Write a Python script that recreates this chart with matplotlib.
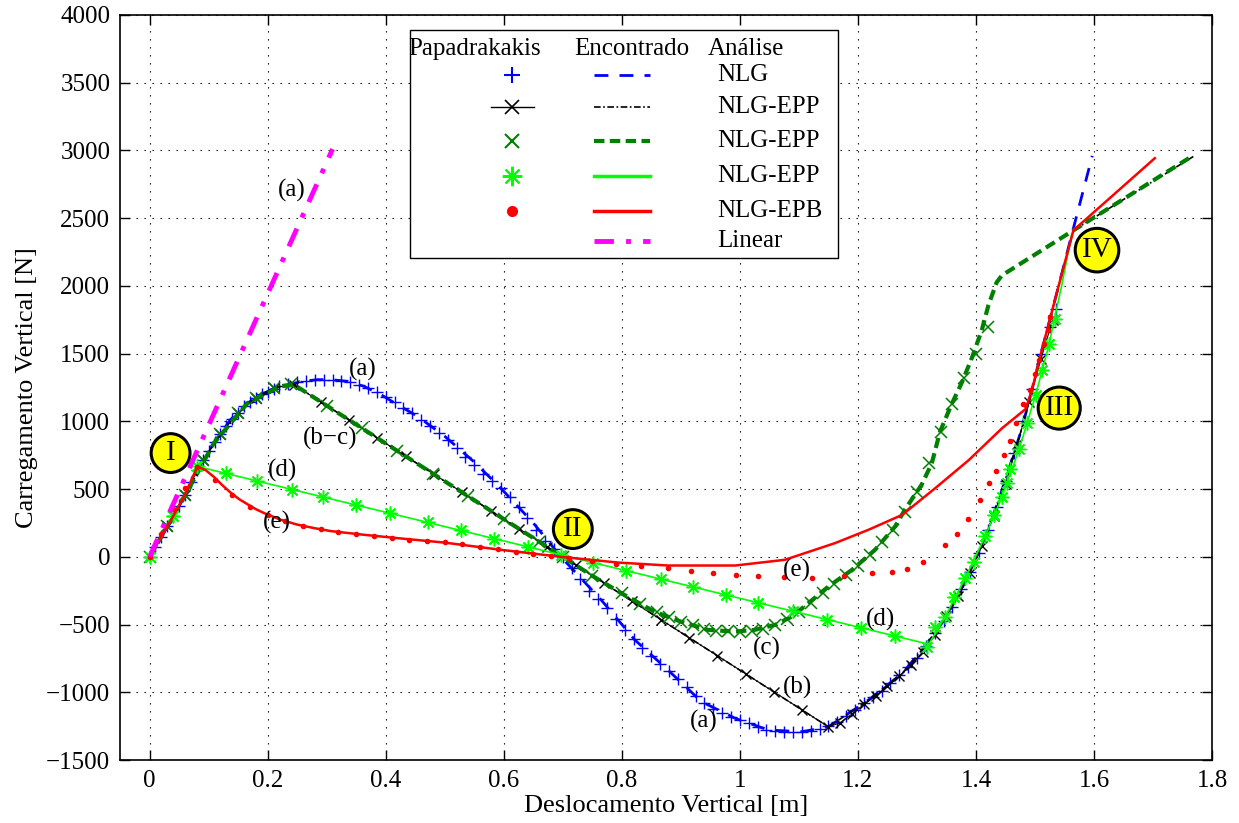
import matplotlib
matplotlib.use("Agg")
import matplotlib.pyplot as plt
from matplotlib.lines import Line2D
from matplotlib.patches import Rectangle

plt.rcParams['font.family'] = 'serif'
plt.rcParams['font.serif'] = ['Liberation Serif', 'DejaVu Serif']
plt.rcParams['font.size'] = 18

# ---- data ----
# (a) NLG - Papadrakakis (blue +)
nlg_pap_x = [0.000, 0.010, 0.020, 0.030, 0.040, 0.050, 0.060, 0.070, 0.080, 0.090, 0.100, 0.110,
             0.120, 0.130, 0.140, 0.150, 0.160, 0.170, 0.180, 0.190, 0.200, 0.210, 0.220, 0.235,
             0.250, 0.265, 0.280, 0.295, 0.310, 0.325, 0.340, 0.355, 0.370, 0.385, 0.400, 0.415,
             0.430, 0.445, 0.460, 0.475, 0.490, 0.505, 0.520, 0.535, 0.550, 0.565, 0.580, 0.595,
             0.610, 0.625, 0.640, 0.655, 0.670, 0.685, 0.700, 0.715, 0.730, 0.745, 0.760, 0.775,
             0.790, 0.805, 0.820, 0.835, 0.850, 0.865, 0.880, 0.895, 0.910, 0.925, 0.940, 0.955,
             0.970, 0.985, 1.000, 1.015, 1.030, 1.045, 1.060, 1.075, 1.090, 1.105, 1.120, 1.135,
             1.150, 1.165, 1.180, 1.195, 1.210, 1.225, 1.240, 1.255, 1.270, 1.285, 1.300, 1.315,
             1.330, 1.345, 1.360, 1.375, 1.390, 1.405, 1.420, 1.435, 1.450, 1.465, 1.480, 1.495,
             1.510, 1.525, 1.535]
nlg_pap_y = [0, 75, 150, 225, 300, 375, 460, 555, 640, 715, 780, 845,
             905, 965, 1020, 1065, 1110, 1145, 1175, 1200, 1220, 1240, 1258, 1275,
             1290, 1300, 1306, 1308, 1306, 1300, 1290, 1272, 1250, 1220, 1180, 1145,
             1100, 1060, 1010, 965, 915, 860, 800, 740, 680, 615, 560, 505,
             440, 370, 290, 200, 120, 60, 0, -80, -165, -250, -310, -380,
             -460, -540, -610, -670, -730, -790, -840, -900, -960, -1030, -1080, -1120,
             -1155, -1185, -1205, -1230, -1255, -1275, -1285, -1292, -1295, -1292, -1285, -1270,
             -1250, -1220, -1175, -1130, -1080, -1035, -990, -930, -875, -815, -750, -660,
             -560, -470, -370, -240, -110, 30, 200, 370, 560, 770, 1000, 1240,
             1500, 1700, 1830]
# (a) NLG - Encontrado (blue dashed)
nlg_enc_x = [0, 0.024, 0.053, 0.081, 0.109, 0.137, 0.166, 0.194, 0.222, 0.261, 0.284, 0.307,
             0.335, 0.363, 0.392, 0.42, 0.454, 0.5, 0.55, 0.595, 0.65, 0.697, 0.765, 0.822,
             0.878, 0.935, 0.992, 1.048, 1.105, 1.15, 1.218, 1.275, 1.31, 1.348, 1.38, 1.416,
             1.44, 1.461, 1.475, 1.49, 1.51, 1.54, 1.562, 1.597]
nlg_enc_y = [0, 175, 397, 643, 840, 1012, 1135, 1209, 1259, 1296, 1308, 1308,
             1296, 1259, 1197, 1123, 1037, 890, 700, 507, 250, 0, -318, -613,
             -835, -1069, -1192, -1278, -1291, -1254, -1057, -860, -680, -454, -200, 144,
             440, 720, 910, 1150, 1500, 2000, 2375, 2960]

# (b) NLG-EPP - Papadrakakis (black x with line)
b_pap_x = [0, 0.03, 0.06, 0.09, 0.12, 0.15, 0.18, 0.21, 0.245, 0.29, 0.338, 0.386, 0.434,
           0.482, 0.53, 0.578, 0.626, 0.674, 0.722, 0.77, 0.818, 0.866, 0.914, 0.962, 1.01,
           1.058, 1.106, 1.15, 1.17, 1.19, 1.21, 1.23, 1.25, 1.27, 1.29, 1.31, 1.33, 1.35,
           1.37, 1.39, 1.41, 1.43, 1.45, 1.47, 1.49, 1.51, 1.53]
b_pap_y = [0, 225, 460, 715, 905, 1065, 1175, 1250, 1270, 1144, 1011, 877, 743,
           609, 475, 340, 207, 73, -61, -195, -329, -463, -597, -730, -864,
           -998, -1132, -1255, -1225, -1160, -1090, -1025, -955, -880, -800, -700, -575, -440,
           -290, -120, 80, 300, 540, 830, 1140, 1460, 1750]
# (b) NLG-EPP - Encontrado (black dash-dot)
b_enc_x = [0, 0.053, 0.109, 0.166, 0.222, 0.245, 1.15, 1.218, 1.275, 1.31, 1.348, 1.38,
           1.416, 1.44, 1.461, 1.475, 1.49, 1.51, 1.54, 1.565, 1.77]
b_enc_y = [0, 397, 840, 1135, 1259, 1270, -1255, -1057, -860, -680, -454, -200,
           144, 440, 720, 910, 1150, 1500, 2000, 2410, 2960]

# (c) NLG-EPP - Papadrakakis (dark green x)
c_pap_x = [0, 0.03, 0.06, 0.09, 0.12, 0.15, 0.18, 0.21, 0.24, 0.3, 0.36, 0.42, 0.48, 0.54,
           0.6, 0.66, 0.7, 0.75, 0.8, 0.83, 0.86, 0.88, 0.9, 0.92, 0.94, 0.96, 0.98, 1.0,
           1.02, 1.04, 1.06, 1.08, 1.1, 1.12, 1.14, 1.16, 1.18, 1.2, 1.22, 1.24, 1.26, 1.28,
           1.3, 1.32, 1.34, 1.36, 1.38, 1.4, 1.42]
c_pap_y = [0, 225, 460, 715, 905, 1065, 1175, 1250, 1275, 1115, 948, 780, 613, 446,
           279, 111, 0, -140, -270, -345, -410, -445, -480, -505, -530, -545, -550, -555,
           -550, -535, -505, -460, -410, -340, -270, -200, -135, -70, 10, 110, 200, 330,
           480, 690, 920, 1130, 1320, 1500, 1700]
# (c) NLG-EPP - Encontrado (dark green dashed)
c_enc_x = [0, 0.053, 0.109, 0.166, 0.222, 0.245, 0.75, 0.799, 0.855, 0.9, 0.946, 0.992,
           1.025, 1.06, 1.088, 1.116, 1.15, 1.19, 1.229, 1.263, 1.28, 1.308, 1.325, 1.339,
           1.359, 1.376, 1.393, 1.41, 1.421, 1.435, 1.444, 1.565, 1.767]
c_enc_y = [0, 397, 840, 1135, 1259, 1270, -140, -268, -404, -478, -539, -552,
           -539, -502, -441, -342, -219, -96, 52, 224, 351, 533, 689, 923,
           1130, 1286, 1468, 1676, 1857, 2026, 2078, 2410, 2960]

# (d) NLG-EPP - Papadrakakis (light green *)
d_pap_x = [0, 0.04, 0.081, 0.129, 0.182, 0.242, 0.293, 0.349, 0.408, 0.471, 0.527, 0.583,
           0.641, 0.697, 0.752, 0.807, 0.866, 0.921, 0.977, 1.03, 1.09, 1.148, 1.205, 1.263,
           1.317, 1.331, 1.348, 1.362, 1.382, 1.396, 1.416, 1.43, 1.444, 1.453, 1.458, 1.473,
           1.487, 1.501, 1.512, 1.524, 1.534]
d_pap_y = [0, 300, 667, 616, 560, 497, 442, 383, 321, 254, 195, 135,
           74, 15, -44, -102, -164, -223, -282, -338, -402, -463, -523, -585,
           -662, -519, -441, -298, -155, -39, 156, 312, 442, 546, 650, 793,
           987, 1195, 1377, 1572, 1759]
# (d) NLG-EPP - Encontrado (light green solid)
d_enc_x = [0, 0.02, 0.04, 0.06, 0.081, 1.32, 1.348, 1.382, 1.416, 1.444, 1.473, 1.501,
           1.524, 1.545, 1.562]
d_enc_y = [0, 150, 300, 460, 667, -645, -441, -155, 156, 442, 793, 1195,
           1572, 2000, 2375]

# (e) NLG-EPB - Papadrakakis (red dots)
e_pap_x = [0, 0.02, 0.04, 0.06, 0.08, 0.11, 0.14, 0.17, 0.2, 0.23, 0.26, 0.29, 0.32, 0.35,
           0.38, 0.41, 0.44, 0.47, 0.5, 0.53, 0.56, 0.59, 0.62, 0.65, 0.68, 0.71, 0.75, 0.79,
           0.833, 0.878, 0.918, 0.955, 0.994, 1.031, 1.075, 1.122, 1.176, 1.224, 1.258, 1.283,
           1.311, 1.348, 1.367, 1.387, 1.406, 1.422, 1.434, 1.447, 1.457, 1.467, 1.479, 1.491,
           1.5, 1.507, 1.515, 1.522, 1.526]
e_pap_y = [0, 170, 350, 510, 660, 570, 455, 370, 310, 262, 228, 203, 184, 168,
           153, 139, 128, 118, 106, 93, 74, 55, 38, 22, 8, -8, -30, -50,
           -64, -84, -103, -116, -133, -138, -150, -158, -140, -116, -113, -90,
           -38, 86, 170, 281, 416, 546, 632, 749, 855, 988, 1130, 1234,
           1351, 1455, 1572, 1676, 1767]
# (e) NLG-EPB - Encontrado (red solid)
e_enc_x = [0, 0.02, 0.04, 0.06, 0.081, 0.095, 0.109, 0.123, 0.137, 0.152, 0.166, 0.18,
           0.194, 0.222, 0.25, 0.279, 0.307, 0.363, 0.42, 0.5, 0.595, 0.697, 0.793, 0.878,
           0.992, 1.076, 1.161, 1.218, 1.275, 1.331, 1.388, 1.444, 1.484, 1.495, 1.51, 1.54,
           1.565, 1.703]
e_enc_y = [0, 150, 300, 460, 667, 640, 590, 530, 475, 425, 388, 352,
           323, 274, 238, 212, 190, 163, 138, 105, 52, 0, -42, -64,
           -64, -22, 101, 200, 310, 507, 715, 949, 1091, 1234, 1500, 2000,
           2410, 2943]

# Linear (magenta dash-dot)
lin_x = [0, 0.31]
lin_y = [0, 3010]

x_ticks = [0, 0.2, 0.4, 0.6, 0.8, 1.0, 1.2, 1.4, 1.6, 1.8]
x_tick_labels = ['0', '0.2', '0.4', '0.6', '0.8', '1', '1.2', '1.4', '1.6', '1.8']
y_ticks = [-1500, -1000, -500, 0, 500, 1000, 1500, 2000, 2500, 3000, 3500, 4000]

curve_labels = [('(a)', 0.2416, 2707), ('(a)', 0.361, 1385), ('(b\u2212c)', 0.3065, 875),
                ('(d)', 0.2247, 641), ('(e)', 0.216, 257), ('(e)', 1.097, -103),
                ('(d)', 1.238, -465), ('(c)', 1.046, -675), ('(b)', 1.097, -963),
                ('(a)', 0.9386, -1217)]
points = [('I', 0.0356, 766), ('II', 0.717, 205), ('III', 1.541, 1098), ('IV', 1.605, 2264)]

# ---- colours / styles ----
blue = '#0000ff'
dgreen = '#008000'
lgreen = '#00ff00'
red = '#ff0000'
magenta = '#ff00ff'
asterisk = (8, 2, 0)

fig = plt.figure(figsize=(12.39, 8.23), dpi=100)
ax = fig.add_axes([0.0969, 0.0765, 0.8814, 0.9053])

ax.plot(nlg_pap_x, nlg_pap_y, '+', color=blue, ms=8, mew=1.0, zorder=3)
ax.plot(nlg_enc_x, nlg_enc_y, color=blue, lw=2, dashes=(5, 4), zorder=4)
ax.plot(b_pap_x, b_pap_y, 'x-', color='k', ms=7, mew=1, lw=0.8, zorder=5)
ax.plot(b_enc_x, b_enc_y, color='k', lw=1.2, dashes=(4, 1.5, 1, 1.5), zorder=5)
ax.plot(c_pap_x, c_pap_y, 'x', color=dgreen, ms=8, mew=1.1, zorder=5)
ax.plot(c_enc_x, c_enc_y, color=dgreen, lw=3, dashes=(2.5, 1.3), zorder=6)
ax.plot(d_pap_x, d_pap_y, marker=asterisk, ls='none', color=lgreen, ms=10, mew=1.1, zorder=6)
ax.plot(d_enc_x, d_enc_y, color=lgreen, lw=1.2, zorder=6)
ax.plot(e_pap_x, e_pap_y, 'o', color=red, ms=3, zorder=7)
ax.plot(e_enc_x, e_enc_y, color=red, lw=1.8, zorder=7)
ax.plot(lin_x, lin_y, color=magenta, lw=3.5, dashes=(4, 2.5, 1, 2.5), zorder=7)

ax.set_xlim(-0.05, 1.8)
ax.set_ylim(-1500, 4000)
ax.set_xticks(x_ticks)
ax.set_xticklabels(x_tick_labels)
ax.set_yticks(y_ticks)
ax.tick_params(direction='in', top=True, right=True, length=7, width=1, labelsize=18, pad=7)
ax.grid(True, color='k', lw=0.8, linestyle=(0, (1.2, 6)))
for s in ax.spines.values():
    s.set_linewidth(1.2)

ax.set_xlabel('Deslocamento Vertical [m]', fontsize=19, labelpad=2)
ax.set_ylabel('Carregamento Vertical [N]', fontsize=19, labelpad=6)

for txt, x, y in curve_labels:
    ax.text(x, y, txt, fontsize=18, ha='center', va='center', zorder=9)

for txt, x, y in points:
    ax.text(x, y, txt, fontsize=21, ha='center', va='center', zorder=10,
            bbox=dict(boxstyle='circle,pad=0.22', fc='#ffff00', ec='k', lw=2.2))

# ---- legend (table style) ----
ax.add_patch(Rectangle((0.2656, 0.674), 0.3919, 0.306, transform=ax.transAxes,
                       fc='white', ec='k', lw=1, zorder=20))
ax.text(0.325, 0.955, 'Papadrakakis', transform=ax.transAxes, ha='center', va='center', fontsize=18, zorder=21)
ax.text(0.469, 0.955, 'Encontrado', transform=ax.transAxes, ha='center', va='center', fontsize=18, zorder=21)
ax.text(0.538, 0.955, 'Análise', transform=ax.transAxes, ha='left', va='center', fontsize=18, zorder=21)

rows_y = [0.9195, 0.8765, 0.8309, 0.7839, 0.7369, 0.6966]
row_names = ['NLG', 'NLG-EPP', 'NLG-EPP', 'NLG-EPP', 'NLG-EPB', 'Linear']
mk_x = 0.359
ln_x = [0.434, 0.485]
leg_markers = [
    dict(marker='+', color=blue, ms=12, mew=1.5, ls='none'),
    dict(marker='x', color='k', ms=10, mew=1.2, ls='-', lw=1),
    dict(marker='x', color=dgreen, ms=10, mew=1.5, ls='none'),
    dict(marker=asterisk, color=lgreen, ms=14, mew=1.5, ls='none'),
    dict(marker='o', color=red, ms=7, ls='none'),
    None,
]
leg_lines = [
    dict(color=blue, lw=2, dashes=(5, 4)),
    dict(color='k', lw=1.2, dashes=(4, 1.5, 1, 1.5)),
    dict(color=dgreen, lw=3, dashes=(2.5, 1.3)),
    dict(color=lgreen, lw=2.5),
    dict(color=red, lw=2.5),
    dict(color=magenta, lw=3.5, dashes=(4, 2.5, 1, 2.5)),
]
for y, name, mk, ln in zip(rows_y, row_names, leg_markers, leg_lines):
    if mk is not None:
        if mk.get('ls') == '-':
            xs = [0.3397, 0.3791]
            ax.add_line(Line2D(xs, [y, y], transform=ax.transAxes, color=mk['color'], lw=1, zorder=21))
            ax.add_line(Line2D([mk_x], [y], transform=ax.transAxes, marker='x', color='k',
                               ms=mk['ms'], mew=mk['mew'], ls='none', zorder=21))
        else:
            ax.add_line(Line2D([mk_x], [y], transform=ax.transAxes, zorder=21, **mk))
    ax.add_line(Line2D(ln_x, [y, y], transform=ax.transAxes, zorder=21, **ln))
    ax.text(0.5467, y, name, transform=ax.transAxes, ha='left', va='center', fontsize=18, zorder=21)

fig.savefig('out.png', dpi=100)
